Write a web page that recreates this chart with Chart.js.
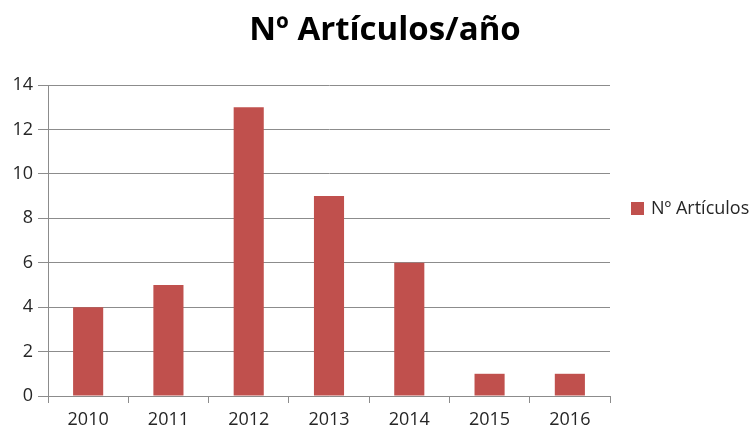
<!DOCTYPE html>
<html>
<head>
<meta charset="utf-8">
<script src="https://cdn.jsdelivr.net/npm/chart.js@4.4.1/dist/chart.umd.min.js"></script>
<style>
  html, body { margin: 0; padding: 0; background: #fff; }
  #wrap { width: 756px; height: 430px; }
</style>
</head>
<body>
<div id="wrap"><canvas id="myChart" width="756" height="430"></canvas></div>
<script>
const chartTitle = 'Nº Artículos/año';
const years = ['2010', '2011', '2012', '2013', '2014', '2015', '2016'];
const articles = [4, 5, 13, 9, 6, 1, 1];
const seriesName = 'Nº Artículos';

const barColor = '#C0504D';
const gridColor = '#8c8c8c';
const textColor = '#262626';
const fontFamily = '"Open Sans", Lato, sans-serif';

// title and legend drawn by hand, placed like the spreadsheet chart
const frameBits = {
  id: 'frameBits',
  afterDraw(chart) {
    const c = chart.ctx;
    c.save();
    c.fillStyle = '#000';
    c.font = 'bold 33px ' + fontFamily;
    c.textAlign = 'center';
    c.textBaseline = 'alphabetic';
    c.fillText(chartTitle, 385, 40);

    const ds = chart.data.datasets[0];
    c.fillStyle = ds.backgroundColor;
    c.fillRect(631, 202, 13, 13);
    c.fillStyle = textColor;
    c.font = '18px ' + fontFamily;
    c.textAlign = 'left';
    c.textBaseline = 'middle';
    c.fillText(ds.label, 651, 209);
    c.restore();
  }
};

const ctx = document.getElementById('myChart');
const chart = new Chart(ctx, {
  type: 'bar',
  data: {
    labels: years,
    datasets: [{
      label: seriesName,
      data: articles,
      backgroundColor: barColor,
      borderWidth: 0,
      barPercentage: 0.375,
      categoryPercentage: 1
    }]
  },
  options: {
    responsive: false,
    animation: false,
    layout: { padding: { left: 0, right: 146, top: 85, bottom: 0 } },
    plugins: {
      legend: { display: false },
      title: { display: false },
      tooltip: { enabled: false }
    },
    scales: {
      x: {
        afterFit: (s) => { s.height = 34; },
        grid: { offset: true, drawOnChartArea: false, drawTicks: true, tickLength: 7, color: gridColor },
        border: { color: gridColor, width: 1 },
        ticks: { color: textColor, font: { family: fontFamily, size: 18 }, padding: 6 }
      },
      y: {
        min: 0,
        max: 14,
        afterFit: (s) => { s.width = 48; },
        grid: { color: gridColor, tickLength: 10, drawTicks: true },
        border: { color: gridColor, width: 1 },
        ticks: { stepSize: 2, color: textColor, font: { family: fontFamily, size: 18 }, padding: 5 }
      }
    }
  },
  plugins: [frameBits]
});
</script>
</body>
</html>
